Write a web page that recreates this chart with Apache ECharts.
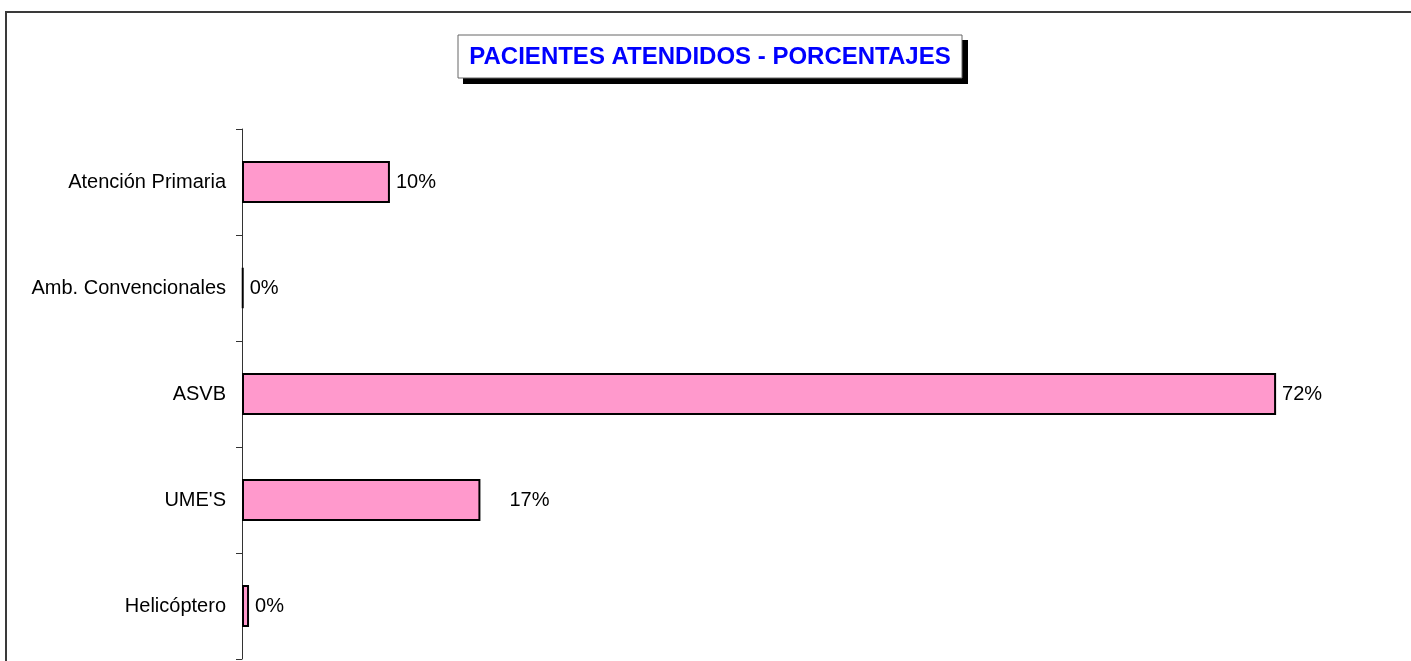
<!DOCTYPE html>
<html style="height: 100%">
<head>
    <meta charset="utf-8">
</head>
<body style="height: 100%; margin: 0; background: #fff">
<div id="container" style="width: 1411px; height: 661px"></div>
<script type="text/javascript" src="https://cdn.jsdelivr.net/npm/echarts@6/dist/echarts.min.js"></script>
<script type="text/javascript">
var categories = ['Atención Primaria', 'Amb. Convencionales', 'ASVB', "UME'S", 'Helicóptero'];
var values = [10.3, 0.1, 72.0, 16.6, 0.49];
var labelShift = [0, 0, 0, 23, 0];   // the 17% label sits further out in the original

var dom = document.getElementById('container');
var myChart = echarts.init(dom);

var data = values.map(function (v, i) {
    return {
        value: v,
        label: { offset: [labelShift[i], 0] }
    };
});

var FONT = '"Liberation Sans", Arial, sans-serif';

var option = {
    backgroundColor: '#fff',
    animation: false,
    graphic: [
        // outer chart frame
        {
            type: 'rect',
            shape: { x: 6, y: 12, width: 1420, height: 670 },
            style: { fill: 'none', stroke: '#3a3a3a', lineWidth: 2 },
            silent: true
        },
        // title box shadow
        {
            type: 'rect',
            shape: { x: 463, y: 40, width: 505, height: 44 },
            style: { fill: '#000' },
            silent: true
        },
        // title box
        {
            type: 'rect',
            shape: { x: 458, y: 35, width: 504, height: 43 },
            style: { fill: '#fff', stroke: '#666', lineWidth: 1 },
            silent: true
        },
        {
            type: 'text',
            x: 710,
            y: 57,
            style: {
                text: 'PACIENTES ATENDIDOS - PORCENTAJES',
                fill: '#0000ff',
                font: 'bold 24px ' + FONT,
                align: 'center',
                verticalAlign: 'middle'
            },
            silent: true
        }
    ],
    grid: {
        left: 242,
        right: 20,
        top: 129,
        bottom: 2,
        containLabel: false
    },
    xAxis: {
        type: 'value',
        min: 0,
        max: 80,
        show: false
    },
    yAxis: {
        type: 'category',
        inverse: true,
        data: categories,
        axisLine: { show: true, lineStyle: { color: '#333', width: 1 } },
        axisTick: { show: true, length: 6, lineStyle: { color: '#333' } },
        axisLabel: {
            margin: 16,
            fontSize: 20,
            color: '#000',
            fontFamily: FONT
        },
        splitLine: { show: false }
    },
    series: [{
        type: 'bar',
        data: data,
        barWidth: 42,
        itemStyle: {
            color: '#ff99cc',
            borderColor: '#000',
            borderWidth: 2
        },
        label: {
            show: true,
            position: 'right',
            distance: 6,
            fontSize: 20,
            color: '#000',
            fontFamily: FONT,
            formatter: function (p) {
                return Math.round(p.value) + '%';
            }
        }
    }]
};

myChart.setOption(option);
</script>
</body>
</html>
